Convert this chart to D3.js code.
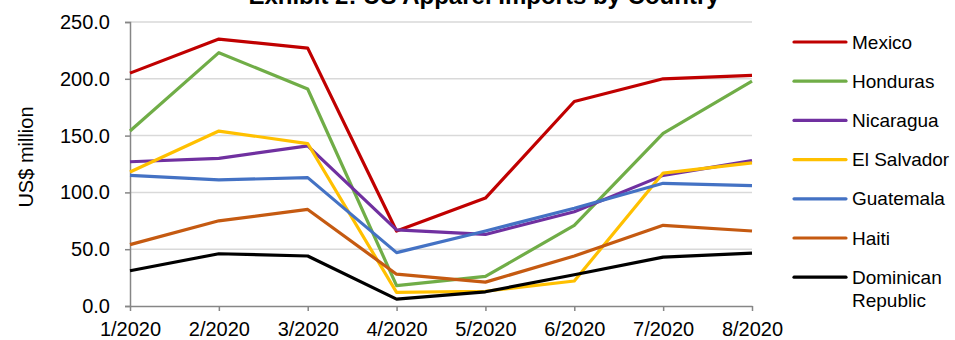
<!DOCTYPE html>
<html><head><meta charset="utf-8">
<script src="https://cdn.jsdelivr.net/npm/d3@7"></script>
<style>body{margin:0;background:#fff}svg{display:block;font-family:"Liberation Sans",Arial,sans-serif}</style>
</head><body><svg id="c" width="955" height="340"></svg>
<script>
const months = ["1/2020","2/2020","3/2020","4/2020","5/2020","6/2020","7/2020","8/2020"];
const yTicks = [0,50,100,150,200,250];
const mexico      = [205,235,227,66,95,180,200,203];
const honduras    = [154,223,191,18,26,71,152,198];
const nicaragua   = [127,130,141,67,63,83,115,128];
const elSalvador  = [118,154,143,12,13,22,117,126];
const guatemala   = [115,111,113,47,66,86,108,106];
const haiti       = [54,75,85,28,21,44,71,66];
const dominican   = [31,46,44,6,12.5,27.5,43,46.5];
const seriesNames = ["Mexico","Honduras","Nicaragua","El Salvador","Guatemala","Haiti","Dominican Republic"];
const seriesVals  = [mexico,honduras,nicaragua,elSalvador,guatemala,haiti,dominican];
const colors = ["#C00000","#70AD47","#7030A0","#FFC000","#4472C4","#C55A11","#000000"];

const svg = d3.select("#c");
const x = d3.scalePoint().domain(months).range([130,752]);
const y = d3.scaleLinear().domain([0,250]).range([306,22]);

svg.append("text").attr("x",484).attr("y",4).attr("text-anchor","middle")
  .attr("font-weight","bold").attr("font-size",24).text("Exhibit 2: US Apparel Imports by Country");

// gridlines
svg.append("g").selectAll("line").data(yTicks.filter(d=>d>0)).join("line")
  .attr("x1",130).attr("x2",752).attr("y1",d=>y(d)).attr("y2",d=>y(d))
  .attr("stroke","#d9d9d9").attr("stroke-width",1.5);

// y axis
const ya = svg.append("g").attr("transform","translate(130,0)")
  .call(d3.axisLeft(y).tickValues(yTicks).tickFormat(d3.format(".1f")).tickSize(5).tickPadding(15));
ya.select(".domain").attr("stroke","#868686").attr("stroke-width",1.5);
ya.selectAll(".tick line").attr("stroke","#868686").attr("stroke-width",1.5);
ya.selectAll("text").attr("font-size",20).attr("fill","#000").attr("font-family","Liberation Sans, Arial, sans-serif");

// x axis
const xa = svg.append("g").attr("transform","translate(0,306)")
  .call(d3.axisBottom(x).tickSize(5).tickPadding(11).tickSizeOuter(0));
xa.select(".domain").attr("stroke","#868686").attr("stroke-width",1.5);
xa.selectAll(".tick line").attr("stroke","#868686").attr("stroke-width",1.5);
xa.selectAll("text").attr("font-size",20).attr("fill","#000").attr("font-family","Liberation Sans, Arial, sans-serif");

svg.append("text").attr("transform","translate(33,157) rotate(-90)").attr("text-anchor","middle")
  .attr("font-size",20).text("US$ million");

const line = d3.line().x((d,i)=>x(months[i])).y(d=>y(d));
seriesVals.forEach((vals,k)=>{
  svg.append("path").datum(vals).attr("d",line).attr("fill","none")
    .attr("stroke",colors[k]).attr("stroke-width",3.2).attr("stroke-linejoin","round");
});

// legend
const lg = svg.append("g");
seriesNames.forEach((n,k)=>{
  const yy = 42 + k*39.2;
  lg.append("line").attr("x1",794).attr("x2",846).attr("y1",yy).attr("y2",yy)
    .attr("stroke",colors[k]).attr("stroke-width",3.2).attr("stroke-linecap","round");
  const parts = n === "Dominican Republic" ? ["Dominican","Republic"] : [n];
  const t = lg.append("text").attr("x",852).attr("y",yy+6.5).attr("font-size",19);
  parts.forEach((p,i)=>t.append("tspan").attr("x",852).attr("dy",i?23:0).text(p));
});
</script></body></html>
